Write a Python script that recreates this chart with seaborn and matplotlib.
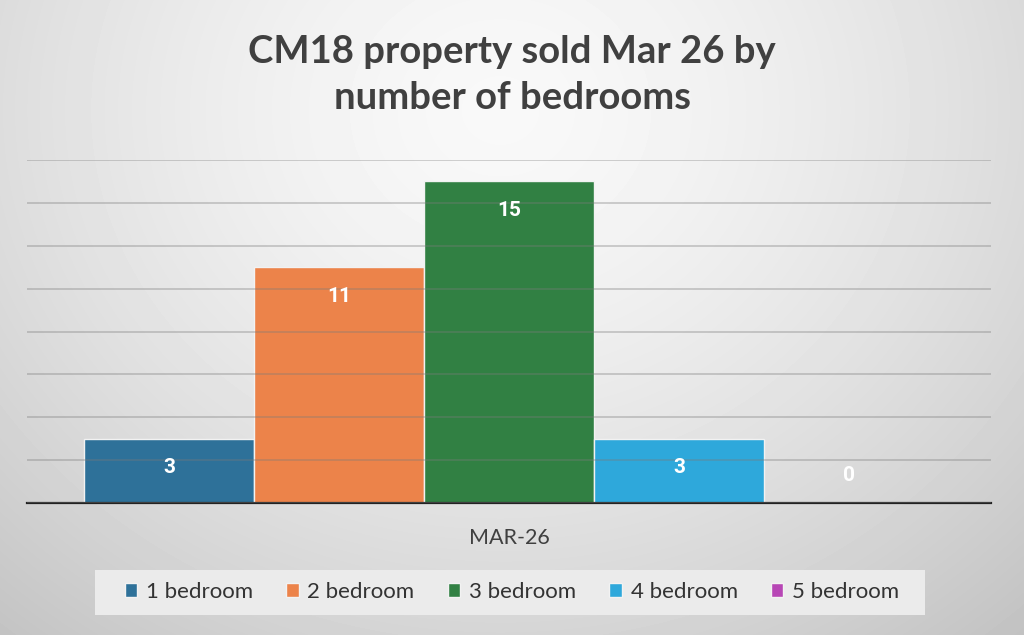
import matplotlib
matplotlib.use("Agg")
import matplotlib.pyplot as plt
import seaborn as sns
import numpy as np
import pandas as pd
from matplotlib.patches import Rectangle

categories = ["MAR-26"]
bedrooms = ["1 bedroom", "2 bedroom", "3 bedroom", "4 bedroom", "5 bedroom"]
sold = [3, 11, 15, 3, 0]
colors = ["#2E7199", "#EC834A", "#318043", "#2EA8DB", "#B746B5"]
title = "CM18 property sold Mar 26 by\nnumber of bedrooms"
yticks = list(range(0, 17, 2))

df = pd.DataFrame({"month": categories * len(bedrooms), "bedrooms": bedrooms, "sold": sold})

sns.set_theme(style="white")
plt.rcParams["font.family"] = ["Lato", "DejaVu Sans"]

fig = plt.figure(figsize=(10.24, 6.35), dpi=100)

# background gradient
bg = fig.add_axes([0, 0, 1, 1], zorder=-10)
h, w = 635, 1024
yy, xx = np.mgrid[0:h, 0:w]
r = np.sqrt(((xx - 500) / 700) ** 2 + ((yy - 110) / 620) ** 2)
val = 0.975 - 0.18 * r ** 1.5
bg.imshow(np.clip(val, 0, 1), cmap="gray", vmin=0, vmax=1, extent=[0, 1, 0, 1],
          aspect="auto", origin="upper")
bg.axis("off")
# legend box background
bg.add_patch(Rectangle((95 / 1024, 1 - 615 / 635), 830 / 1024, 45 / 635,
                       transform=bg.transAxes, facecolor="#ebebeb", edgecolor="none", zorder=5))

ax = fig.add_axes([27 / 1024, 132 / 635, 964 / 1024, 343 / 635])
ax.patch.set_alpha(0)
sns.barplot(data=df, x="month", y="sold", hue="bedrooms", palette=colors, width=0.882,
            ax=ax, edgecolor="#f2f2f2", linewidth=1, saturation=1, errorbar=None)

for cont in ax.containers:
    for bar in cont:
        v = bar.get_height()
        xc = bar.get_x() + bar.get_width() / 2
        off = -21 if v > 0 else 20
        ax.annotate(f"{int(v)}", (xc, v), xytext=(0, off), textcoords="offset points",
                    ha="center", va="center", color="white", fontsize=15,
                    fontweight="bold", family=["Roboto", "DejaVu Sans"])

ax.set_xlim(-0.5, 0.5)
ax.set_ylim(0, 16)
ax.set_yticks(yticks)
ax.set_yticklabels([])
ax.tick_params(axis="y", length=0)
ax.yaxis.grid(True, color="#7a7a7a", alpha=0.4, lw=1.2)
ax.set_axisbelow(False)
ax.set_xlabel("")
ax.set_ylabel("")
for s in ["left", "right", "top"]:
    ax.spines[s].set_visible(False)
ax.spines["bottom"].set_color("#222222")
ax.spines["bottom"].set_linewidth(1.6)
ax.set_xticks([-0.5, 0.5], minor=True)
ax.tick_params(axis="x", which="minor", direction="out", length=6, width=1.6, color="#222222")
ax.tick_params(axis="x", which="major", length=0, pad=18, labelsize=15.5, labelcolor="#404040")

handles, labels = ax.get_legend_handles_labels()
if ax.get_legend() is not None:
    ax.get_legend().remove()
leg = fig.legend(handles, labels, ncol=5, loc="center", bbox_to_anchor=(512 / 1024, 1 - 592 / 635),
                 frameon=False, fontsize=16, handlelength=0.55, handleheight=0.55,
                 columnspacing=1.5, handletextpad=0.4, borderpad=0.45, borderaxespad=0)
for t in leg.get_texts():
    t.set_color("#333333")

fig.text(0.5, 1 - 75 / 635, title, ha="center", va="center", fontsize=27.5, fontweight="bold",
         color="#404040", linespacing=1.45)

fig.savefig("out.png", dpi=100)
